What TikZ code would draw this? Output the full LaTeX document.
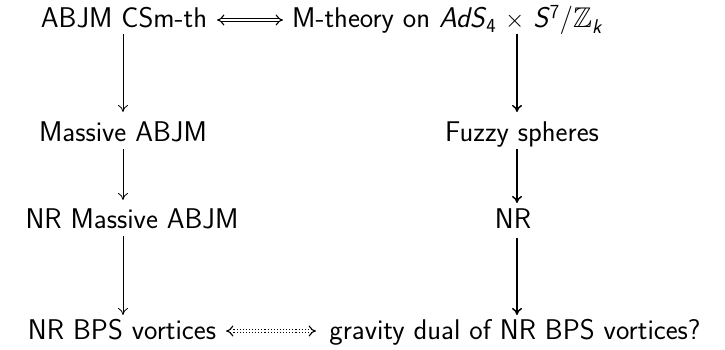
\documentclass[tikz,border=0pt]{standalone}
\usepackage{amssymb}
\usetikzlibrary{arrows.meta}
\begin{document}
\begin{tikzpicture}[x=1pt,y=1pt,
  lbl/.style={font=\fontsize{28.5}{33}\selectfont\sffamily, inner sep=0pt, anchor=base},
  thin arrow/.style={-{To[length=7pt,width=10pt]}, line width=0.8pt},
  thick arrow/.style={-{To[length=7pt,width=10pt]}, line width=1.5pt},
  dbl/.style={double, double distance=2.6pt, line width=1.1pt, {Implies[]}-{Implies[]}},
  dotdbl/.style={double, double distance=2.6pt, line width=1.1pt, dotted, {Implies[]}-{Implies[]}}]
\useasboundingbox (0,0) rectangle (725,350);
\node[lbl] (a) at (124,322) {ABJM CSm-th};
\node[lbl] (b) at (447,322) {M-theory on \textit{AdS}\textsubscript{4} $\times$ \textit{S}\textsuperscript{7}/$\mathbb{Z}$\textsubscript{\itshape k}};
\node[lbl] (c) at (123,208) {Massive ABJM};
\node[lbl] (d) at (522,208) {Fuzzy spheres};
\node[lbl] (e) at (132,121) {NR Massive ABJM};
\node[lbl] (f) at (513,121) {NR};
\node[lbl] (g) at (122,10) {NR BPS vortices};
\node[lbl] (h) at (515,10) {gravity dual of NR BPS vortices?};
% connector end points
\coordinate (a1) at (217,330); \coordinate (b1) at (283,330);
\coordinate (g1) at (226,19);  \coordinate (h1) at (316,19);
\coordinate (p1) at (123,316); \coordinate (p2) at (123,238);
\coordinate (p3) at (123,201); \coordinate (p4) at (123,150);
\coordinate (p5) at (123,114); \coordinate (p6) at (123,35);
\coordinate (q1) at (517,316); \coordinate (q2) at (517,238);
\coordinate (q3) at (517,201); \coordinate (q4) at (517,147);
\coordinate (q5) at (517,112); \coordinate (q6) at (517,35);
\draw[dbl] (a1) -- (b1);
\draw[dotdbl] (g1) -- (h1);
\draw[thin arrow] (p1) -- (p2);
\draw[thin arrow] (p3) -- (p4);
\draw[thin arrow] (p5) -- (p6);
\draw[thick arrow] (q1) -- (q2);
\draw[thick arrow] (q3) -- (q4);
\draw[thick arrow] (q5) -- (q6);
\end{tikzpicture}
\end{document}
